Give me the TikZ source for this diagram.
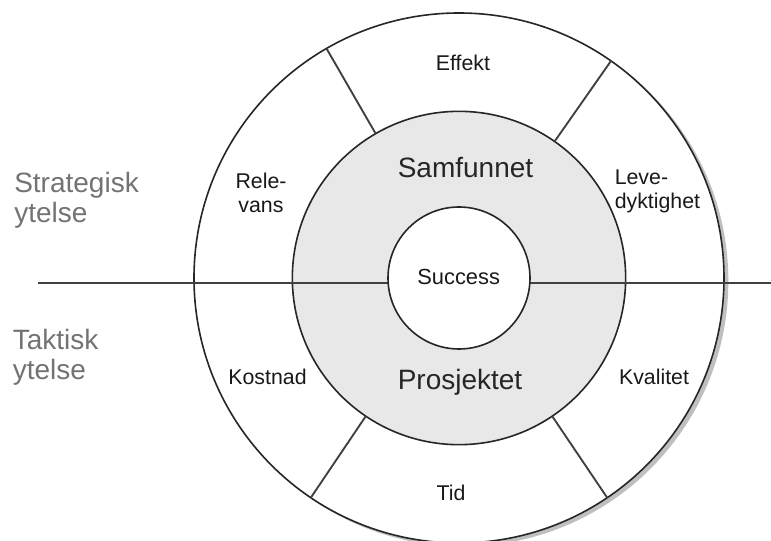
\documentclass[tikz,border=0pt]{standalone}
\usepackage{fontspec}
\setmainfont{Liberation Sans}
\begin{document}
\begin{tikzpicture}[x=0.75pt,y=-0.75pt,
  ring/.style={circle,draw=black!85,line width=1.2pt,inner sep=0pt,outer sep=0pt},
  divider/.style={draw=black!75,line width=1.6pt},
  spoke/.style={draw=black!75,line width=1.4pt},
  sidelabel/.style={text=black!55,font=\fontsize{21}{22.5}\selectfont,align=left,anchor=north west,inner sep=0pt},
  biglabel/.style={text=black!85,font=\fontsize{21}{22.5}\selectfont,anchor=base,inner sep=0pt},
  smalllabel/.style={text=black!90,font=\fontsize{16}{18}\selectfont,inner sep=0pt},
  succlabel/.style={text=black!90,font=\fontsize{16.4}{18}\selectfont,anchor=base,inner sep=0pt}]
\useasboundingbox (0,0) rectangle (771,541);
\fill[white] (0,0) rectangle (771,541);
% shadow
\node[circle,fill=black!25,minimum size=398pt,inner sep=0pt] (shadow) at (463,281) {};
\node[ring,fill=white,minimum size=397.5pt] (outer) at (459,278) {};
\node[ring,fill=black!9,minimum size=250pt] (mid) at (459,278) {};
% dividers
\coordinate (L) at (38,283);
\coordinate (R) at (771,283);
\draw[divider] (L) -- (R);
\draw[spoke] (mid.120) -- (outer.120);
\draw[spoke] (mid.55.5) -- (outer.55.5);
\draw[spoke] (mid.-56) -- (outer.-56);
\draw[spoke] (mid.-124.5) -- (outer.-124.5);
\node[ring,fill=white,minimum size=106.5pt] (inner) at (459,278) {};
% labels
\node[sidelabel] (strat) at (14,171.5) {Strategisk\\ytelse};
\node[sidelabel] (takt) at (12.5,328.6) {Taktisk\\ytelse};
\node[biglabel] (samf) at (465.5,178) {Samfunnet};
\node[biglabel] (prosj) at (460,390) {Prosjektet};
\node[succlabel] (succ) at (458.7,285) {Success};
\node[smalllabel,anchor=base] (effekt) at (463,70.7) {Effekt};
\node[smalllabel,anchor=base] (tid) at (451,500) {Tid};
\node[smalllabel,anchor=base] (kost) at (267.5,385) {Kostnad};
\node[smalllabel,anchor=base] (kval) at (654,385) {Kvalitet};
\node[smalllabel,anchor=north,align=center] (rele) at (261,172.3) {Rele-\\vans};
\node[smalllabel,anchor=north west,align=left] (leve) at (614.5,169.5) {Leve-\\dyktighet};
\end{tikzpicture}
\end{document}
